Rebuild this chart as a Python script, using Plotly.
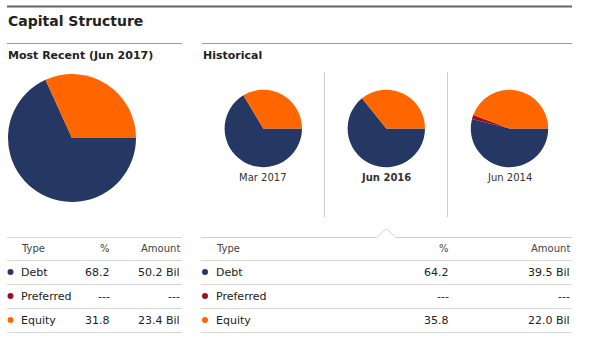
import plotly.graph_objects as go

# ---------------- data ----------------
types = ["Debt", "Preferred", "Equity"]
colors = ["#253763", "#9b0d22", "#ff6600"]

recent_label = "Most Recent (Jun 2017)"
recent_pct = [68.2, 0.0, 31.8]
recent_pct_text = ["68.2", "---", "31.8"]
recent_amount_text = ["50.2 Bil", "---", "23.4 Bil"]

hist_labels = ["Mar 2017", "Jun 2016", "Jun 2014"]
hist_pct = [
    [66.4, 0.0, 33.6],
    [64.2, 0.0, 35.8],
    [54.0, 1.7, 44.3],
]
selected_hist = 1
sel_pct_text = ["64.2", "---", "35.8"]
sel_amount_text = ["39.5 Bil", "---", "22.0 Bil"]

headers = ["Type", "%", "Amount"]

# ---------------- layout helpers ----------------
W, H = 590, 343
FONT = "DejaVu Sans, Verdana, sans-serif"
TXT = "#222222"


def dom(cx, cy, r):
    return dict(x=[(cx - r) / W, (cx + r) / W], y=[1 - (cy + r) / H, 1 - (cy - r) / H])


fig = go.Figure()

# pies
fig.add_trace(go.Pie(
    labels=types, values=recent_pct, sort=False, direction="clockwise", rotation=90,
    marker=dict(colors=colors, line=dict(width=0)), textinfo="none",
    domain=dom(72, 138, 64), showlegend=False, hoverinfo="label+percent"))

hist_cx = [263.3, 386.3, 509.5]
for i, vals in enumerate(hist_pct):
    fig.add_trace(go.Pie(
        labels=types, values=vals, sort=False, direction="clockwise", rotation=90,
        marker=dict(colors=colors, line=dict(width=0)), textinfo="none",
        domain=dom(hist_cx[i], 128.5, 38.7), showlegend=False, hoverinfo="label+percent"))

# table dots
row_y = [272, 296, 320]
fig.add_trace(go.Scatter(
    x=[10.5] * 3 + [205] * 3, y=row_y + row_y, mode="markers",
    marker=dict(size=6, color=colors + colors, line=dict(width=0)),
    showlegend=False, hoverinfo="skip", xaxis="x", yaxis="y"))

ann = []


def text(x, y, s, size=11, bold=False, anchor="left", color=TXT):
    ann.append(dict(x=x, y=y, xref="x", yref="y", text=("<b>%s</b>" % s) if bold else s,
                    showarrow=False, xanchor=anchor, yanchor="middle",
                    font=dict(family=FONT, size=size, color=color)))


text(6, 21, "Capital Structure", size=14, bold=True)
text(6, 55, recent_label, size=11, bold=True)
text(201, 55, "Historical", size=11, bold=True)

for i, lab in enumerate(hist_labels):
    text(hist_cx[i], 177, lab, size=10, bold=(i == selected_hist), anchor="center", color="#333333")

# left table
hy = 248
text(19, hy, headers[0], size=10, color="#444444")
text(111.5, hy, headers[1], size=10, anchor="right", color="#444444")
text(182, hy, headers[2], size=10, anchor="right", color="#444444")
for i, t in enumerate(types):
    text(19, row_y[i], t)
    text(111.5, row_y[i], recent_pct_text[i], anchor="right")
    text(182, row_y[i], recent_amount_text[i], anchor="right")

# right table
text(213.5, hy, headers[0], size=10, color="#444444")
text(450.5, hy, headers[1], size=10, anchor="right", color="#444444")
text(572, hy, headers[2], size=10, anchor="right", color="#444444")
for i, t in enumerate(types):
    text(213.5, row_y[i], t)
    text(450.5, row_y[i], sel_pct_text[i], anchor="right")
    text(572, row_y[i], sel_amount_text[i], anchor="right")

shapes = []


def line(x0, y0, x1, y1, color, w=1):
    shapes.append(dict(type="line", xref="x", yref="y", x0=x0, y0=y0, x1=x1, y1=y1,
                       line=dict(color=color, width=w)))


line(7, 6.5, 572, 6.5, "#666666", 2)
line(7, 43.5, 182, 43.5, "#999999")
line(202, 43.5, 572, 43.5, "#999999")
line(324.5, 72, 324.5, 217, "#cccccc")
line(447.5, 72, 447.5, 217, "#cccccc")

table_lines = [237.5, 260.5, 284.5, 308.5, 332.5]
for yy in table_lines:
    line(7, yy, 182, yy, "#d6d6d6")
for yy in table_lines[1:]:
    line(201, yy, 572, yy, "#d6d6d6")
nx = hist_cx[selected_hist]
shapes.append(dict(type="path", xref="x", yref="y",
                   path="M 201 237.5 L %.1f 237.5 L %.1f 228.5 L %.1f 237.5 L 572 237.5" % (nx - 9.5, nx, nx + 9.5),
                   line=dict(color="#d0d0d0", width=1)))

fig.update_layout(
    width=W, height=H, margin=dict(l=0, r=0, t=0, b=0),
    paper_bgcolor="white", plot_bgcolor="white",
    xaxis=dict(range=[0, W], visible=False, domain=[0, 1], fixedrange=True),
    yaxis=dict(range=[H, 0], visible=False, domain=[0, 1], fixedrange=True),
    annotations=ann, shapes=shapes, showlegend=False,
)

fig.write_html("out.html")
